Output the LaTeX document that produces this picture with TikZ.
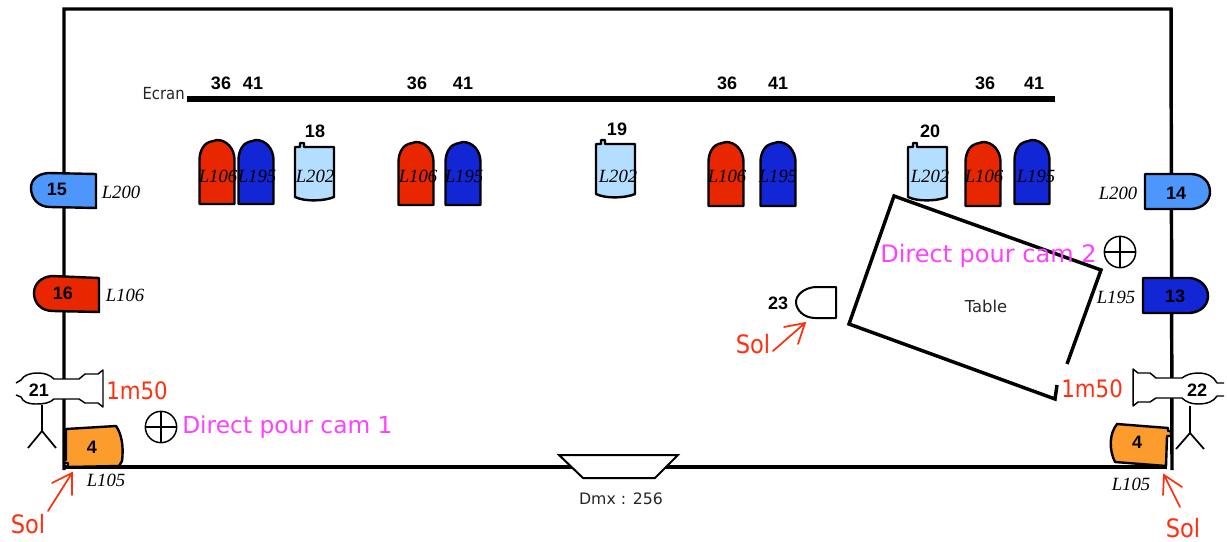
\documentclass[tikz,border=0pt]{standalone}
\usepackage{fontspec}
\setmainfont{Liberation Serif}
\newfontfamily\vfont{DejaVu Sans}
\newfontfamily\nfont[FakeStretch=0.89]{DejaVu Sans}
\newfontfamily\afont{Liberation Sans}
\definecolor{cred}{RGB}{232,38,0}
\definecolor{cblue}{RGB}{18,38,214}
\definecolor{clight}{RGB}{180,222,255}
\definecolor{csky}{RGB}{76,150,252}
\definecolor{corange}{RGB}{252,156,44}
\definecolor{cmag}{RGB}{255,64,255}
\definecolor{csol}{RGB}{255,48,16}
\tikzset{
  px/.style={x=0.75pt,y=-0.75pt},
  wall/.style={line width=2.6pt,black},
  lamp/.style={line width=1.8pt,draw=black,line join=round},
  thinl/.style={line width=1.3pt,black},
  num/.style={font=\afont\bfseries\fontsize{13.5}{15}\selectfont,inner sep=0pt},
  gel/.style={font=\itshape\fontsize{14}{16}\selectfont,inner sep=0pt},
  vtxt/.style={font=\vfont\fontsize{11.8}{14}\selectfont,inner sep=0pt,text=black!85},
  pink/.style={font=\vfont\fontsize{17.5}{20}\selectfont,inner sep=0pt,text=cmag},
  redt/.style={font=\nfont\fontsize{18}{20}\selectfont,inner sep=0pt,text=csol},
  soltxt/.style={font=\nfont\fontsize{19}{20}\selectfont,inner sep=0pt,text=csol,anchor=base},
  solarrow/.style={line width=1.3pt,draw=csol,line cap=round},
  cross/.style={circle,draw,line width=1.1pt,minimum size=23.5pt,inner sep=0pt},
}
\newcommand{\domelamp}[5]{%
  \filldraw[lamp,fill=#5] (#1-#3,#4) -- (#1-#3,#2+20)
   .. controls (#1-#3,#2+9) and (#1-#3+6,#2+3) .. (#1-#3+10,#2+2)
   -- (#1,#2) .. controls (#1+10,#2) and (#1+#3,#2+9) .. (#1+#3,#2+20)
   -- (#1+#3,#4) -- cycle;}
\newcommand{\cyllamp}[2]{%
  \filldraw[lamp,fill=clight] (#1,#2+3) -- (#1+5,#2+3) -- (#1+5,#2-1) -- (#1+9,#2-1) -- (#1+9,#2+3)
   -- (#1+39,#2+3) -- (#1+39,#2+53) .. controls (#1+30,#2+57) and (#1+10,#2+58) .. (#1,#2+53)
   -- cycle;}
\begin{document}
\begin{tikzpicture}[px]
\useasboundingbox (0,0) rectangle (1227,542);
% Hall
\coordinate (tl) at (64,9); \coordinate (tr) at (1171,9);
\coordinate (bl) at (64,470); \coordinate (br) at (1172,470);
\coordinate (fl) at (64,467); \coordinate (fr) at (1167,467);
\draw[wall] (bl) -- (tl) -- (tr) -- (br);
\draw[wall] (fl) -- (fr);
\coordinate (e1) at (187,99); \coordinate (e2) at (1055,99);
\draw[line width=4.2pt] (e1) -- (e2);
\node[vtxt,anchor=east,font=\nfont\fontsize{12.5}{14}\selectfont] (ecran) at (185,94) {Ecran};
% Dmx
\filldraw[line width=1.5pt,fill=white] (559,455) -- (678,455) -- (655,478) -- (583,478) -- cycle;
\node[vtxt] (dmx) at (621,499) {Dmx : 256};
% Bar numbers
\foreach \n/\x/\t in {a/221/36,b/253/41,c/417/36,d/463/41,e/727/36,f/778/41,g/985/36,h/1034/41}
  \node[num] (n\n) at (\x,83) {\t};
% Back lamps
\domelamp{217}{140}{17.5}{204}{cred}
\domelamp{256}{140}{17.5}{204}{cblue}
\domelamp{416}{142}{17.5}{205}{cred}
\domelamp{463}{142}{17.5}{205}{cblue}
\domelamp{726}{142}{17.5}{206}{cred}
\domelamp{778}{142}{17.5}{206}{cblue}
\domelamp{983}{142}{17.5}{206}{cred}
\domelamp{1032}{140}{17.5}{204}{cblue}
\cyllamp{295}{144}
\cyllamp{596}{141}
\cyllamp{908}{144}
\foreach \n/\x/\y/\t in {a/218/176/L106,b/257/176/L195,c/315/176/L202,d/418/176/L106,e/464/176/L195,f/618/176/L202,g/727/176/L106,h/778/176/L195,i/930/176/L202,j/984/176/L106,k/1036/176/L195}
  \node[gel] (g\n) at (\x,\y) {\t};
\node[num] (n18) at (315,131) {18};
\node[num] (n19) at (617,129) {19};
\node[num] (n20) at (930,131) {20};
% Side lamps
\filldraw[lamp,fill=csky] (96,174) -- (48,173) .. controls (37,174) and (31,180) .. (31,188) .. controls (31,198) and (38,207) .. (50,207) -- (96,208) -- cycle;
\node[num] (n15) at (57,189) {15};
\node[gel] (g15) at (121,192) {L200};
\filldraw[lamp,fill=cred] (99,278) -- (52,276) .. controls (41,277) and (34,284) .. (34,293) .. controls (34,303) and (41,311) .. (53,311) -- (99,312) -- cycle;
\node[num] (n16) at (63,293) {16};
\node[gel] (g16) at (125,295) {L106};
\filldraw[lamp,fill=csky] (1145,174) -- (1192,174) .. controls (1204,175) and (1210,183) .. (1210,192) .. controls (1210,201) and (1203,208) .. (1192,209) -- (1145,209) -- cycle;
\node[num] (n14) at (1176,193) {14};
\node[gel] (g14) at (1118,193) {L200};
\filldraw[lamp,fill=cblue] (1143,278) -- (1190,278) .. controls (1201,279) and (1208,287) .. (1208,296) .. controls (1208,305) and (1201,312) .. (1190,313) -- (1143,313) -- cycle;
\node[num] (n13) at (1175,296) {13};
\node[gel] (g13) at (1116,297) {L195};
% Table
\coordinate (t1) at (894,196); \coordinate (t2) at (1101,270);
\coordinate (t3) at (1067,364); \coordinate (t4) at (1057,385);
\coordinate (t5) at (1055,399); \coordinate (t6) at (849,324);
\draw[line width=2.6pt,line join=miter] (t3) -- (t2) -- (t1) -- (t6) -- (t5) -- (t4);
\node[vtxt,font=\vfont\fontsize{12.3}{14}\selectfont] (table) at (986,306) {Table};
% 23
\filldraw[line width=1.5pt,fill=white,line join=round] (836,287) -- (815,287) .. controls (804,288) and (796,295) .. (796,302) .. controls (796,310) and (804,318) .. (815,318) -- (836,318) -- cycle;
\node[num] (n23) at (778,303) {23};
% Cameras: open at the far end
\filldraw[line width=1.1pt,fill=white,line join=round]
 (16,383) -- (21,380) .. controls (24,375) and (30,373) .. (38,373) .. controls (45,373) and (50,375) .. (54,379)
 -- (79,379) -- (85,374) -- (98,374) -- (103,370) -- (103,407) -- (98,403) -- (85,403) -- (79,399)
 -- (54,399) .. controls (50,403) and (44,404) .. (36,404) .. controls (28,404) and (23,402) .. (21,397) -- (16,395);
\node[num] (n21) at (39,390) {21};
\filldraw[line width=1.1pt,fill=white,line join=round]
 (1224,383) -- (1217,383) .. controls (1214,377) and (1208,373) .. (1198,373) .. controls (1191,373) and (1186,375) .. (1182,378)
 -- (1156,378) -- (1150,373) -- (1138,373) -- (1133,369) -- (1133,406) -- (1138,402) -- (1150,402) -- (1156,398)
 -- (1182,398) .. controls (1186,402) and (1191,404) .. (1198,404) .. controls (1208,404) and (1214,401) .. (1217,396) -- (1224,396);
\node[num] (n22) at (1197,390) {22};
% Stands
\coordinate (s1a) at (42,405); \coordinate (s1b) at (42,431);
\coordinate (s1c) at (28,448); \coordinate (s1d) at (56,448);
\draw[thinl] (s1a) -- (s1b) (s1c) -- (s1b) -- (s1d);
\coordinate (s2a) at (1190,406); \coordinate (s2b) at (1190,433);
\coordinate (s2c) at (1176,449); \coordinate (s2d) at (1204,449);
\draw[thinl] (s2a) -- (s2b) (s2c) -- (s2b) -- (s2d);
% Orange 4
\filldraw[lamp,fill=corange] (66,429) -- (116,426) .. controls (121,433) and (124,445) .. (122,461) -- (119,466) -- (68,467) -- (68,463) -- (64,463) -- (64,460) -- (66,460) -- cycle;
\node[num] (n4a) at (92,447) {4};
\filldraw[lamp,fill=corange] (1168,428) -- (1168,431) -- (1171,431) -- (1171,436) -- (1167,436) -- (1166,466) -- (1115,462) .. controls (1109,450) and (1109,434) .. (1117,424) -- cycle;
\node[num] (n4b) at (1137,442) {4};
\node[gel] (gl1) at (106,480) {L105};
\node[gel] (gl2) at (1131,484) {L105};
% Crosshairs
\node[cross] (x1) at (161,427) {};
\draw[line width=1.1pt] (x1.north) -- (x1.south) (x1.west) -- (x1.east);
\node[cross] (x2) at (1120,252) {};
\draw[line width=1.1pt] (x2.north) -- (x2.south) (x2.west) -- (x2.east);
% Red and pink texts
\node[pink,anchor=west] (d1) at (182,427) {Direct pour cam 1};
\node[pink,anchor=west,font=\vfont\fontsize{18}{20}\selectfont] (d2) at (880,256) {Direct pour cam 2};
\node[redt,anchor=west] (m1) at (106,391) {1m50};
\node[redt,anchor=west] (m2) at (1061,389) {1m50};
\node[soltxt] (sol1) at (28,533) {Sol};
\node[soltxt] (sol2) at (1183,537) {Sol};
\node[soltxt] (sol3) at (753,353) {Sol};
% Sol arrows
\coordinate (a1s) at (48,511); \coordinate (a1t) at (72,473);
\coordinate (a1l) at (52,483); \coordinate (a1r) at (72,495);
\coordinate (a2s) at (1180,507); \coordinate (a2t) at (1164,475);
\coordinate (a2l) at (1163,495); \coordinate (a2r) at (1182,487);
\coordinate (a3s) at (773,351); \coordinate (a3t) at (805,323);
\coordinate (a3l) at (784,327); \coordinate (a3r) at (798,344);
\draw[solarrow] (a1s) -- (a1t) (a1l) -- (a1t) -- (a1r);
\draw[solarrow] (a2s) -- (a2t) (a2l) -- (a2t) -- (a2r);
\draw[solarrow] (a3s) -- (a3t) (a3l) -- (a3t) -- (a3r);
\end{tikzpicture}
\end{document}
